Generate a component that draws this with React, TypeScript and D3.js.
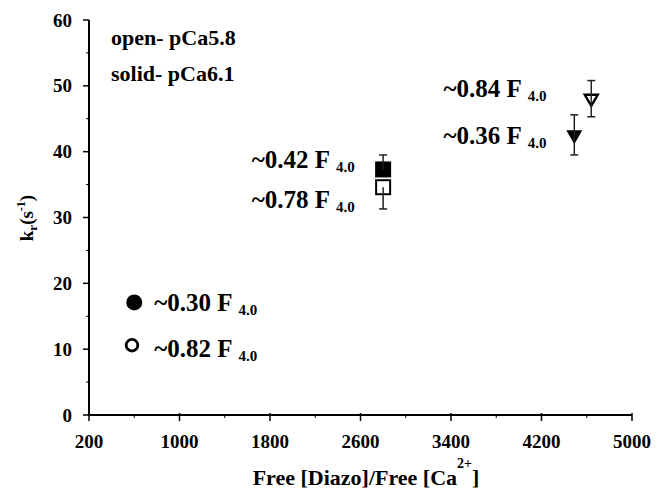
import React from 'react';
import * as d3 from 'd3';

// ---- data ----
const xTickValues = [200, 1000, 1800, 2600, 3400, 4200, 5000];
const xMinorTicks = [600, 1400, 2200, 3000, 3800, 4600];
const yTickValues = [0, 10, 20, 30, 40, 50, 60];
const yMinorTicks = [5, 15, 25, 35, 45, 55];

const pointShapes = ['circle', 'circle', 'square', 'square', 'triangle', 'triangle'];
const pointFilled = [true, false, true, false, true, false];
const pointX = [600, 580, 2800, 2800, 4490, 4640];
const pointY = [17.1, 10.6, 37.3, 34.6, 42.2, 47.8];
const errLow: (number | null)[] = [null, null, null, 31.3, 39.5, 45.3];
const errHigh: (number | null)[] = [null, null, 39.5, null, 45.6, 50.8];
const pointLabels = ['~0.30 F', '~0.82 F', '~0.42 F', '~0.78 F', '~0.36 F', '~0.84 F'];
const labelSub = '4.0';
const legendLines = ['open- pCa5.8', 'solid- pCa6.1'];

// ---- layout (label offsets from marker, px) ----
const labelOffsets = [
  [20, 8.6],
  [22.3, 11.5],
  [-131.4, -1.7],
  [-131.4, 20.8],
  [-130.9, 6.8],
  [-147.9, -3.3],
];

const W = 664;
const H = 495;
const FONT = '"Liberation Serif", "Times New Roman", serif';

export default function App() {
  const x = d3.scaleLinear().domain([200, 5000]).range([89, 632]);
  const y = d3.scaleLinear().domain([0, 60]).range([415, 20]);
  const x0 = x(200);
  const y0 = y(0);

  const marker = (i: number) => {
    const cx = x(pointX[i]);
    const cy = y(pointY[i]);
    const shape = pointShapes[i];
    if (shape === 'circle') {
      return pointFilled[i] ? (
        <circle key={'m' + i} cx={cx} cy={cy} r={8} fill="#000" />
      ) : (
        <circle key={'m' + i} cx={cx} cy={cy} r={5.8} fill="#fff" stroke="#000" strokeWidth={2.8} />
      );
    }
    if (shape === 'square') {
      return pointFilled[i] ? (
        <rect key={'m' + i} x={cx - 8} y={cy - 8} width={16} height={16} fill="#000" />
      ) : (
        <rect key={'m' + i} x={cx - 7} y={cy - 7} width={14} height={14} fill="#fff" stroke="#000" strokeWidth={2} />
      );
    }
    const p = d3.path();
    if (pointFilled[i]) {
      p.moveTo(cx - 8, cy - 7);
      p.lineTo(cx + 8, cy - 7);
      p.lineTo(cx, cy + 7);
    } else {
      p.moveTo(cx - 6.5, cy - 5.5);
      p.lineTo(cx + 6.5, cy - 5.5);
      p.lineTo(cx, cy + 5.5);
    }
    p.closePath();
    return pointFilled[i] ? (
      <path key={'m' + i} d={p.toString()} fill="#000" />
    ) : (
      <path key={'m' + i} d={p.toString()} fill="#fff" stroke="#000" strokeWidth={2.4} strokeLinejoin="miter" />
    );
  };

  const errBars = (i: number) => {
    const cx = x(pointX[i]);
    const cy = y(pointY[i]);
    const out: JSX.Element[] = [];
    const ends = [errLow[i], errHigh[i]];
    ends.forEach((e, k) => {
      if (e === null) return;
      const ey = y(e);
      out.push(
        <g key={'e' + i + '_' + k} stroke="#222" strokeWidth={1.5}>
          <line x1={cx} x2={cx} y1={cy} y2={ey} />
          <line x1={cx - 4} x2={cx + 4} y1={ey} y2={ey} />
        </g>
      );
    });
    return out;
  };

  return (
    <svg
      width={W}
      height={H}
      style={{ position: 'absolute', left: 0, top: 0, display: 'block', background: '#fff' }}
      fontFamily={FONT}
      fontWeight="bold"
    >
      <rect x={0} y={0} width={W} height={H} fill="#fff" />
      {/* axes */}
      <line x1={x0} x2={x0} y1={y(60)} y2={y0 + 1} stroke="#000" strokeWidth={2} />
      <line x1={x0 - 1} x2={x(5000)} y1={y0} y2={y0} stroke="#000" strokeWidth={2} />
      {yTickValues.map((t) => (
        <g key={'yt' + t}>
          <line x1={x0 - 6} x2={x0} y1={y(t)} y2={y(t)} stroke="#000" strokeWidth={1.5} />
          <text x={x0 - 17} y={y(t)} dy="0.35em" textAnchor="end" fontSize={19}>
            {t}
          </text>
        </g>
      ))}
      {yMinorTicks.map((t) => (
        <line key={'ym' + t} x1={x0 - 3} x2={x0} y1={y(t)} y2={y(t)} stroke="#000" strokeWidth={1} />
      ))}
      {xTickValues.map((t) => (
        <g key={'xt' + t}>
          <line x1={x(t)} x2={x(t)} y1={y0 - 2} y2={y0 + 6} stroke="#000" strokeWidth={1.5} />
          <text x={x(t)} y={y0 + 33} textAnchor="middle" fontSize={19}>
            {t}
          </text>
        </g>
      ))}
      {xMinorTicks.map((t) => (
        <line key={'xm' + t} x1={x(t)} x2={x(t)} y1={y0} y2={y0 + 3} stroke="#000" strokeWidth={1} />
      ))}

      {/* axis titles */}
      <text x={366} y={485} textAnchor="middle" fontSize={22}>
        Free [Diazo]/Free [Ca
        <tspan fontSize={14} dy={-17}>2+</tspan>
        <tspan dy={17}>]</tspan>
      </text>
      <text transform="translate(33,218) rotate(-90)" textAnchor="middle" fontSize={19}>
        k<tspan fontSize={13} dy={4}>r</tspan>
        <tspan dy={-4}>(s</tspan>
        <tspan fontSize={12} dy={-8}>-1</tspan>
        <tspan dy={8}>)</tspan>
      </text>

      {/* legend text */}
      {legendLines.map((s, i) => (
        <text key={'lg' + i} x={111} y={45 + i * 36} fontSize={22}>
          {s}
        </text>
      ))}

      {/* markers */}
      {pointX.map((_, i) => marker(i))}
      {pointX.map((_, i) => errBars(i))}

      {/* labels */}
      {pointLabels.map((s, i) => (
        <text
          key={'lb' + i}
          x={x(pointX[i]) + labelOffsets[i][0]}
          y={y(pointY[i]) + labelOffsets[i][1]}
          fontSize={25}
        >
          {s}
          <tspan fontSize={15} dx={6} dy={4}>
            {labelSub}
          </tspan>
        </text>
      ))}
    </svg>
  );
}
